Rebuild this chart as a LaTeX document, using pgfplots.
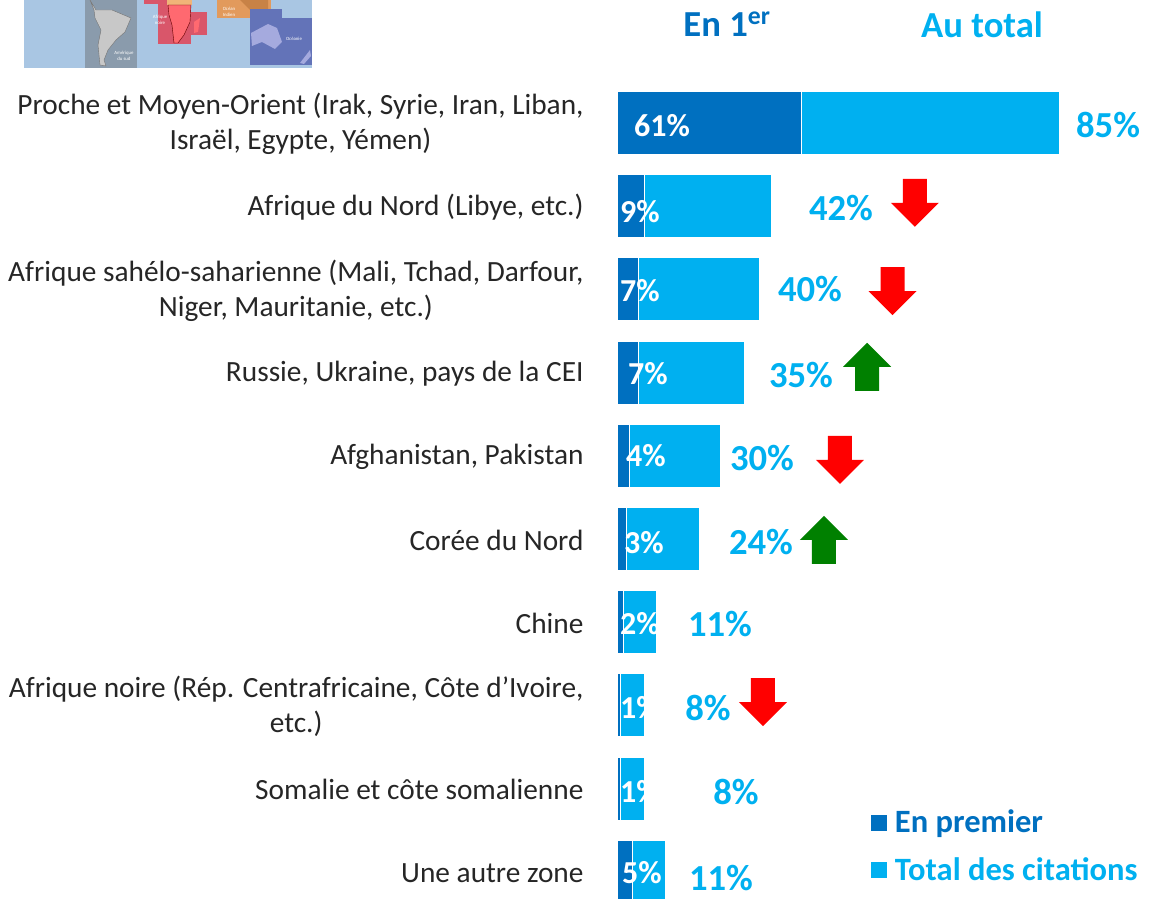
\documentclass[border=0pt]{standalone}
\usepackage{pgfplots}
\pgfplotsset{compat=1.18}
\usepackage{fontspec}
\setmainfont{Carlito}
\definecolor{dark}{HTML}{0070C0}
\definecolor{light}{HTML}{00B0F0}
\definecolor{arrgreen}{HTML}{008000}
\pgfdeclareplotmark{downarr}{%
  \pgfpathmoveto{\pgfpoint{-9pt}{18pt}}\pgfpathlineto{\pgfpoint{9pt}{18pt}}%
  \pgfpathlineto{\pgfpoint{9pt}{0pt}}\pgfpathlineto{\pgfpoint{18pt}{0pt}}%
  \pgfpathlineto{\pgfpoint{0pt}{-18pt}}\pgfpathlineto{\pgfpoint{-18pt}{0pt}}%
  \pgfpathlineto{\pgfpoint{-9pt}{0pt}}\pgfpathclose\pgfusepathqfill}
\pgfdeclareplotmark{uparr}{%
  \pgfpathmoveto{\pgfpoint{-9pt}{-18pt}}\pgfpathlineto{\pgfpoint{9pt}{-18pt}}%
  \pgfpathlineto{\pgfpoint{9pt}{0pt}}\pgfpathlineto{\pgfpoint{18pt}{0pt}}%
  \pgfpathlineto{\pgfpoint{0pt}{18pt}}\pgfpathlineto{\pgfpoint{-18pt}{0pt}}%
  \pgfpathlineto{\pgfpoint{-9pt}{0pt}}\pgfpathclose\pgfusepathqfill}
\newcommand\Px[2]{({#1*0.75pt},{(898-#2)*0.75pt})}
\newcommand\inlab[3]{\node[text=white,font=\fontsize{24}{24}\selectfont\bfseries,inner sep=0pt] at \Px{#1}{#2} {#3};}
\newcommand\totlab[3]{\node[text=light,font=\fontsize{27.5}{27.5}\selectfont\bfseries,inner sep=0pt] at \Px{#1}{#2} {#3};}
\begin{document}
\begin{tikzpicture}
\begin{axis}[
  at={(0,0)},anchor=south west,scale only axis,
  width=863.25pt,height=673.5pt,
  xmin=-204.1,xmax=176.4,ymin=-1.478,ymax=9.315,y dir=reverse,
  axis line style={draw=none},tick style={draw=none},
  xtick=\empty,ytick={0,...,9},
  yticklabels={{Proche et Moyen-Orient (Irak, Syrie, Iran, Liban,\\Israël, Egypte, Yémen)},
    {Afrique du Nord (Libye, etc.)},
    {Afrique sahélo-saharienne (Mali, Tchad, Darfour,\\Niger, Mauritanie, etc.)},
    {Russie, Ukraine, pays de la CEI},
    {Afghanistan, Pakistan},
    {Corée du Nord},
    {Chine},
    {Afrique noire (Rép. Centrafricaine, Côte d’Ivoire,\\etc.)},
    {Somalie et côte somalienne},
    {Une autre zone}},
  yticklabel style={align=center,font=\fontsize{22}{26.2}\selectfont,xshift=437.8pt,yshift=-0.8pt,inner sep=0pt,text=black!85},
  xbar stacked,bar width=47.3pt,
  legend style={at={(rel axis cs:0.7567,0.1011)},anchor=north west,draw=none,fill=none,
    font=\fontsize{24.4}{24.4}\selectfont\bfseries,row sep=13pt,inner sep=0pt,
    /tikz/every even column/.style={column sep=6pt}},
  legend cell align=left,
  legend image code/.code={\fill[#1,draw=none] (0pt,-6pt) rectangle (12pt,6pt);},
]
\addplot+[fill=dark,draw=white,line width=0.7pt] coordinates
 {(61,0) (9,1) (7,2) (7,3) (4,4) (3,5) (2,6) (1,7) (1,8) (5,9)};
\addlegendentry{\hspace{3.75pt}\textcolor{dark}{En premier}}
\addplot+[fill=light,draw=white,line width=0.7pt] coordinates
 {(85,0) (42,1) (40,2) (35,3) (30,4) (24,5) (11,6) (8,7) (8,8) (11,9)};
\addlegendentry{\hspace{3.75pt}\textcolor{light}{Total des citations}}
\end{axis}
\begin{axis}[
  at={(0,0)},anchor=south west,scale only axis,
  width=863.25pt,height=673.5pt,
  xmin=-204.64,xmax=176.49,ymin=-1.478,ymax=9.315,y dir=reverse,
  hide axis,
]
\addplot[only marks,mark=downarr,color=red] coordinates {(98.3,0.96) (90.9,2.02) (73.5,4.05) (48.0,6.96)};
\addplot[only marks,mark=uparr,color=arrgreen] coordinates {(82.5,2.93) (68.2,5.01)};
\end{axis}
% map fragment
\begin{scope}
\clip \Px{24}{0} rectangle \Px{312}{68};
\fill[fill={rgb,255:red,169;green,198;blue,227}] \Px{24}{0} rectangle \Px{312}{68};
\fill[fill={rgb,255:red,138;green,155;blue,172}] \Px{85}{0} rectangle \Px{137}{68};
\fill[fill={rgb,255:red,200;green,200;blue,200},draw=black!55,line width=.3pt]
  \Px{90}{0}--\Px{96}{10}--\Px{112}{10}--\Px{131}{18}--\Px{125}{32}--\Px{116}{40}--\Px{108}{50}--\Px{104}{60}--\Px{106}{66}--\Px{100}{65}--\Px{98}{45}--\Px{101}{30}--\Px{95}{18}--\Px{94}{10}--cycle;
\fill[fill={rgb,255:red,217;green,86;blue,106}] \Px{144}{0} rectangle \Px{192}{4};
\fill[fill={rgb,255:red,217;green,86;blue,106}] \Px{158}{4} rectangle \Px{191}{44};
\fill[fill={rgb,255:red,217;green,86;blue,106}] \Px{191}{12} rectangle \Px{207}{35};
\fill[fill={rgb,255:red,240;green,180;blue,120}] \Px{167}{0} rectangle \Px{192}{5};
\fill[fill={rgb,255:red,255;green,105;blue,112},draw=black!60!red,line width=.3pt]
  \Px{168}{5}--\Px{191}{5}--\Px{190}{22}--\Px{184}{35}--\Px{178}{43}--\Px{174}{43}--\Px{172}{25}--\Px{169}{15}--cycle;
\fill[fill={rgb,255:red,255;green,105;blue,112}] \Px{194}{22}--\Px{200}{18}--\Px{198}{32}--\Px{194}{33}--cycle;
\fill[fill={rgb,255:red,226;green,154;blue,92}] \Px{217}{0} rectangle \Px{271}{18};
\fill[fill={rgb,255:red,200;green,130;blue,70}] \Px{240}{0}--\Px{268}{0}--\Px{268}{15}--\Px{250}{10}--cycle;
\fill[fill={rgb,255:red,99;green,115;blue,184}] \Px{250}{18} rectangle \Px{312}{65};
\fill[fill={rgb,255:red,99;green,115;blue,184}] \Px{250}{9} rectangle \Px{282}{18};
\fill[fill={rgb,255:red,165;green,170;blue,222}] \Px{251}{33}--\Px{268}{24}--\Px{277}{28}--\Px{282}{42}--\Px{275}{49}--\Px{262}{42}--\Px{252}{46}--cycle;
\fill[fill={rgb,255:red,165;green,170;blue,222}] \Px{300}{63}--\Px{310}{50}--\Px{311}{56}--\Px{304}{64}--cycle;
\node[text=white,font=\fontsize{3.6}{4}\selectfont,align=center,inner sep=0pt] at \Px{124}{56} {Amérique\\du sud};
\node[text=white,font=\fontsize{3.6}{4}\selectfont,align=center,inner sep=0pt] at \Px{160}{20} {Afrique\\noire};
\node[text=white,font=\fontsize{3.6}{4}\selectfont,align=center,inner sep=0pt] at \Px{229}{12} {Océan\\Indien};
\node[text=white,font=\fontsize{3.6}{4}\selectfont,inner sep=0pt] at \Px{294}{39} {Océanie};
\end{scope}
% headers
\node[text=dark,font=\fontsize{27.5}{27.5}\selectfont\bfseries,inner sep=0pt] at \Px{727}{24} {En 1\textsuperscript{er}};
\node[text=light,font=\fontsize{27.5}{27.5}\selectfont\bfseries,inner sep=0pt] at \Px{982}{25} {Au total};
% values inside the bars
\inlab{662}{126}{61\%}\inlab{640}{212}{9\%}\inlab{640}{291}{7\%}\inlab{648}{374}{7\%}\inlab{646}{456}{4\%}
\inlab{644}{543}{3\%}\inlab{640}{624}{2\%}\inlab{640}{708}{1\%}\inlab{640}{792}{1\%}\inlab{642}{873}{5\%}
% totals
\totlab{1108}{125}{85\%}\totlab{841}{208}{42\%}\totlab{810}{289}{40\%}\totlab{801}{375}{35\%}\totlab{762}{458}{30\%}
\totlab{761}{542}{24\%}\totlab{720}{624}{11\%}\totlab{708}{708}{8\%}\totlab{736}{792}{8\%}\totlab{721}{878}{11\%}
\pgfresetboundingbox
\path (0,0) rectangle (863.25pt,673.5pt);
\end{tikzpicture}
\end{document}
